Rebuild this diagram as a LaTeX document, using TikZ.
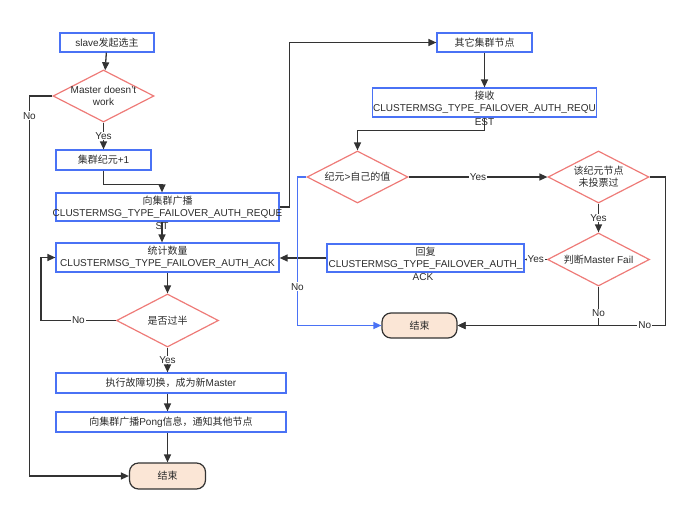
\documentclass[tikz,border=0pt]{standalone}
\usepackage{fontspec}
\setmainfont{Liberation Sans}
\newfontfamily\cjk{Noto Sans CJK SC}
\usepackage{xcolor}
\usepackage{tikz}
\usetikzlibrary{arrows.meta}
\usetikzlibrary{shapes.geometric}

\definecolor{boxblue}{HTML}{4A72F5}
\definecolor{decred}{HTML}{EE7B78}
\definecolor{endfill}{HTML}{FBE6D6}
\definecolor{linegray}{HTML}{333333}
\definecolor{txtgray}{HTML}{2B2B2B}

\newcommand{\zh}[1]{{\cjk #1}}
\newcommand{\wide}[1]{\makebox[0pt]{#1}}

\tikzset{
    box/.style={rectangle, draw=boxblue, line width=1.2pt, inner sep=0pt, align=center, text=txtgray},
    decision/.style={diamond, aspect=2, draw=decred, line width=1.2pt, inner sep=-3pt, align=center, text=txtgray},
    terminal/.style={rectangle, rounded corners=9pt, draw=linegray, fill=endfill, line width=1.2pt, inner sep=0pt, minimum width=76pt, minimum height=26pt, text=txtgray},
    spill/.style={inner sep=0pt, label distance=0.5pt, text=txtgray},
    flow/.style={draw=linegray, line width=1.3pt, -{Triangle[length=8pt,width=7pt]}},
    lbl/.style={fill=white, inner sep=1pt, text=txtgray},
}

\begin{document}
\begin{tikzpicture}[x=1pt, y=-1pt, font=\fontsize{10}{12}\selectfont]
    \useasboundingbox (0,0) rectangle (700,522);

    % slave side
    \node[box, minimum width=94pt, minimum height=19pt] (start) at (107,42.5) {slave\zh{发起选主}};
    \node[decision, minimum width=101pt, minimum height=52pt] (master) at (103.5,96) {Master doesn't\\work};
    \node[box, minimum width=95pt, minimum height=20pt] (epoch) at (103.5,160) {\zh{集群纪元}+1};
    \node[box, minimum width=223pt, minimum height=28pt,
          label={[spill, xshift=-5.5pt]below:ST}] (bcast) at (167.5,207)
          {\zh{向集群广播}\\\wide{CLUSTERMSG\_TYPE\_FAILOVER\_AUTH\_REQUE}};
    \node[box, minimum width=223pt, minimum height=29pt] (count) at (167.5,257.5)
          {\zh{统计数量}\\CLUSTERMSG\_TYPE\_FAILOVER\_AUTH\_ACK};
    \node[decision, minimum width=102pt, minimum height=53pt] (half) at (167.5,320.5) {\zh{是否过半}};
    \node[box, minimum width=230pt, minimum height=20pt] (failover) at (171,383) {\zh{执行故障切换，成为新}Master};
    \node[box, minimum width=230pt, minimum height=20pt] (pong) at (171,422) {\zh{向集群广播}Pong\zh{信息，通知其他节点}};
    \node[terminal] (endL) at (167.5,476) {\zh{结束}};

    % other nodes side
    \node[box, minimum width=95pt, minimum height=19pt] (others) at (484.5,42.5) {\zh{其它集群节点}};
    \node[box, minimum width=224pt, minimum height=29pt,
          label={[spill]below:EST}] (recv) at (484.5,102.5)
          {\zh{接收}\\\wide{CLUSTERMSG\_TYPE\_FAILOVER\_AUTH\_REQU}};
    \node[decision, minimum width=101pt, minimum height=52pt] (cmp) at (357.5,177) {\zh{纪元}>\zh{自己的值}};
    \node[decision, minimum width=101pt, minimum height=52pt] (voted) at (598.5,177) {\zh{该纪元节点}\\\zh{未投票过}};
    \node[decision, minimum width=102pt, minimum height=53pt] (judge) at (598.5,259.5) {\zh{判断}Master Fail};
    \node[box, minimum width=197pt, minimum height=28pt,
          label={[spill, xshift=-2.5pt]below:ACK}] (reply) at (425.5,258)
          {\zh{回复}\\\wide{CLUSTERMSG\_TYPE\_FAILOVER\_AUTH\_}};
    \node[terminal, minimum width=75pt, minimum height=25pt] (endR) at (419.5,325.5) {\zh{结束}};

    % connectors, left
    \draw[flow] (start) -- (master);
    \draw[flow] (master) -- node[lbl]{Yes} (epoch);
    \draw[flow] (master.west) -- ++(-23,0) |- node[lbl, pos=0.026]{No} (endL);
    \draw[flow] (epoch.south) -- ++(0,14) -| ([xshift=-5.5pt]bcast.north);
    \draw[flow] ([xshift=-5.5pt]bcast.south) -- ([xshift=-5.5pt]count.north);
    \draw[flow] (bcast.east) -- ++(10,0) |- (others);
    \draw[flow] (count) -- (half);
    \draw[flow] (half.west) -- node[lbl]{No} ++(-75,0) |- (count.west);
    \draw[flow] (half) -- node[lbl]{Yes} (half |- failover.north);
    \draw[flow] (failover.south -| half) -- (half |- pong.north);
    \draw[flow] (pong.south -| half) -- (endL);

    % connectors, right
    \draw[flow] (others) -- (recv);
    \draw[flow] (recv.south) -- ++(0,13) -| (cmp.north);
    \draw[flow] (cmp) -- node[lbl]{Yes} (voted);
    \draw[flow] (voted) -- node[lbl]{Yes} (judge);
    \draw[flow] (judge.west) -- node[lbl]{Yes} (judge.west -| reply.east);
    \draw[flow] (reply.west) -- (reply.west -| count.east);
    \draw[flow] (judge.south) |- node[lbl, pos=0.34]{No} (endR.east);
    \draw[flow] (voted.east) -- ++(16,0) |- node[lbl, pos=0.55]{No} (endR.east);
    \draw[flow, draw=boxblue] (cmp.west) -- ++(-9,0) |- node[lbl, pos=0.37]{No} (endR.west);
\end{tikzpicture}
\end{document}
